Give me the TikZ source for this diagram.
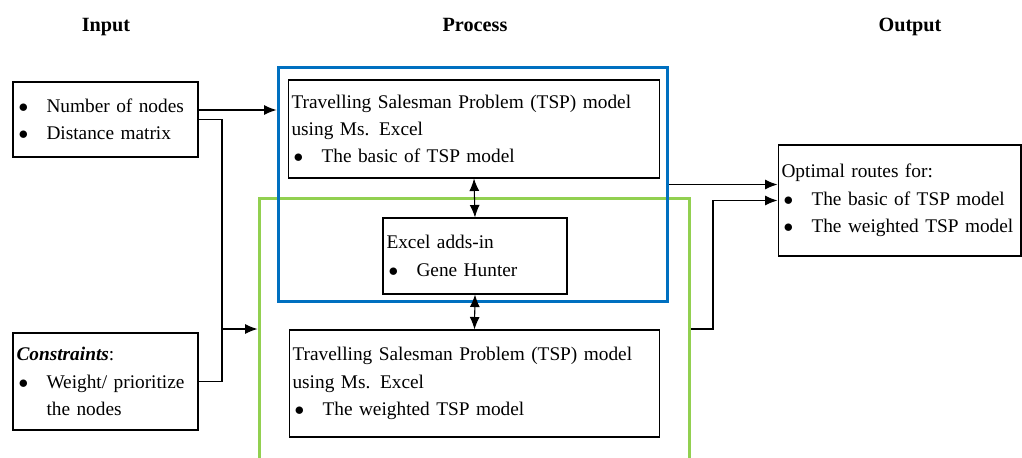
\documentclass[tikz,border=0pt]{standalone}
\usepackage{fontspec}
\setmainfont{Liberation Serif}
\usetikzlibrary{arrows.meta,positioning}
\definecolor{grpblue}{HTML}{0070C0}
\definecolor{grpgreen}{HTML}{92D050}
\newcommand{\bul}[1]{\mbox{\makebox[0.6cm][l]{\hspace{0.04cm}$\bullet$}#1}}
\tikzset{box/.style={draw=black, line width=.6pt, fill=white, align=left, inner xsep=.07cm, font=\rmfamily\fontsize{11}{15.5}\selectfont}, arr/.style={-{Latex[length=2.5mm,width=2mm]}, line width=.6pt}, darr/.style={{Latex[length=2.5mm,width=2mm]}-{Latex[length=2.5mm,width=2mm]}, line width=.6pt}, hd/.style={anchor=base, font=\rmfamily\fontsize{11.5}{14}\selectfont\bfseries}, grpframe/.style={line width=1.7pt, inner sep=0pt}}

\begin{document}
\begin{tikzpicture}[x=0.02cm,y=-0.02cm]
\useasboundingbox (0,0) rectangle (1022,457);
% column heads
\node[hd] (hin) at (106,31) {Input}; \node[hd] (hpro) at (475,31) {Process}; \node[hd] (hout) at (910,31) {Output};
% process groups
\node[grpframe, draw=grpgreen, minimum width=8.62cm, minimum height=5.84cm] (grn) at (474.5,344) {};
\node[grpframe, draw=grpblue, minimum width=7.8cm, minimum height=4.7cm] (blu) at (473,184.5) {};
% boxes
\node[box, text width=3.56cm, minimum width=3.7cm, minimum height=1.5cm] (inp) at (105.5,119.5) {\bul{Number of nodes}\\ \bul{Distance matrix}};
\node[box, text width=3.56cm, minimum width=3.7cm, minimum height=1.94cm] (con) at (105.5,381.5) {\textbf{\textit{Constraints}}:\\ \bul{Weight/ prioritize}\\ \hspace*{0.6cm}the nodes};
\node[box, text width=7.3cm, minimum width=7.44cm, minimum height=1.96cm] (tspa) at (474,129) {\mbox{Travelling Salesman Problem (TSP) model}\\ using Ms. Excel\\ \bul{The basic of TSP model}};
\node[box, text width=3.54cm, minimum width=3.68cm, minimum height=1.52cm] (exl) at (475,256) {Excel adds-in\\ \bul{Gene Hunter}};
\node[box, text width=7.28cm, minimum width=7.42cm, minimum height=2.14cm] (tspb) at (474.5,383.5) {\mbox{Travelling Salesman Problem (TSP) model}\\ using Ms. Excel\\ \bul{The weighted TSP model}};
\node[box, text width=4.72cm, minimum width=4.86cm, minimum height=2.22cm] (outp) at (899.5,200.5) {Optimal routes for:\\ \bul{The basic of TSP model}\\ \bul{The weighted TSP model}};
% connectors
\coordinate (jx) at (222,329); \coordinate (ob) at (713,329);
\draw[arr] ([yshift=.19cm]inp.east) -- ([yshift=.19cm]inp.east -| blu.west);
\draw[line width=.6pt] (inp.east) -| (jx) |- (con.east);
\draw[arr] (jx) -- (jx -| grn.west);
\draw[darr] (tspa.south) -- (exl.north); \draw[darr] (exl.south) -- (tspb.north);
\draw[arr] (blu.east) -- (blu.east -| outp.west);
\draw[arr] (ob -| grn.east) -- (ob) |- (outp.west);
\end{tikzpicture}
\end{document}
